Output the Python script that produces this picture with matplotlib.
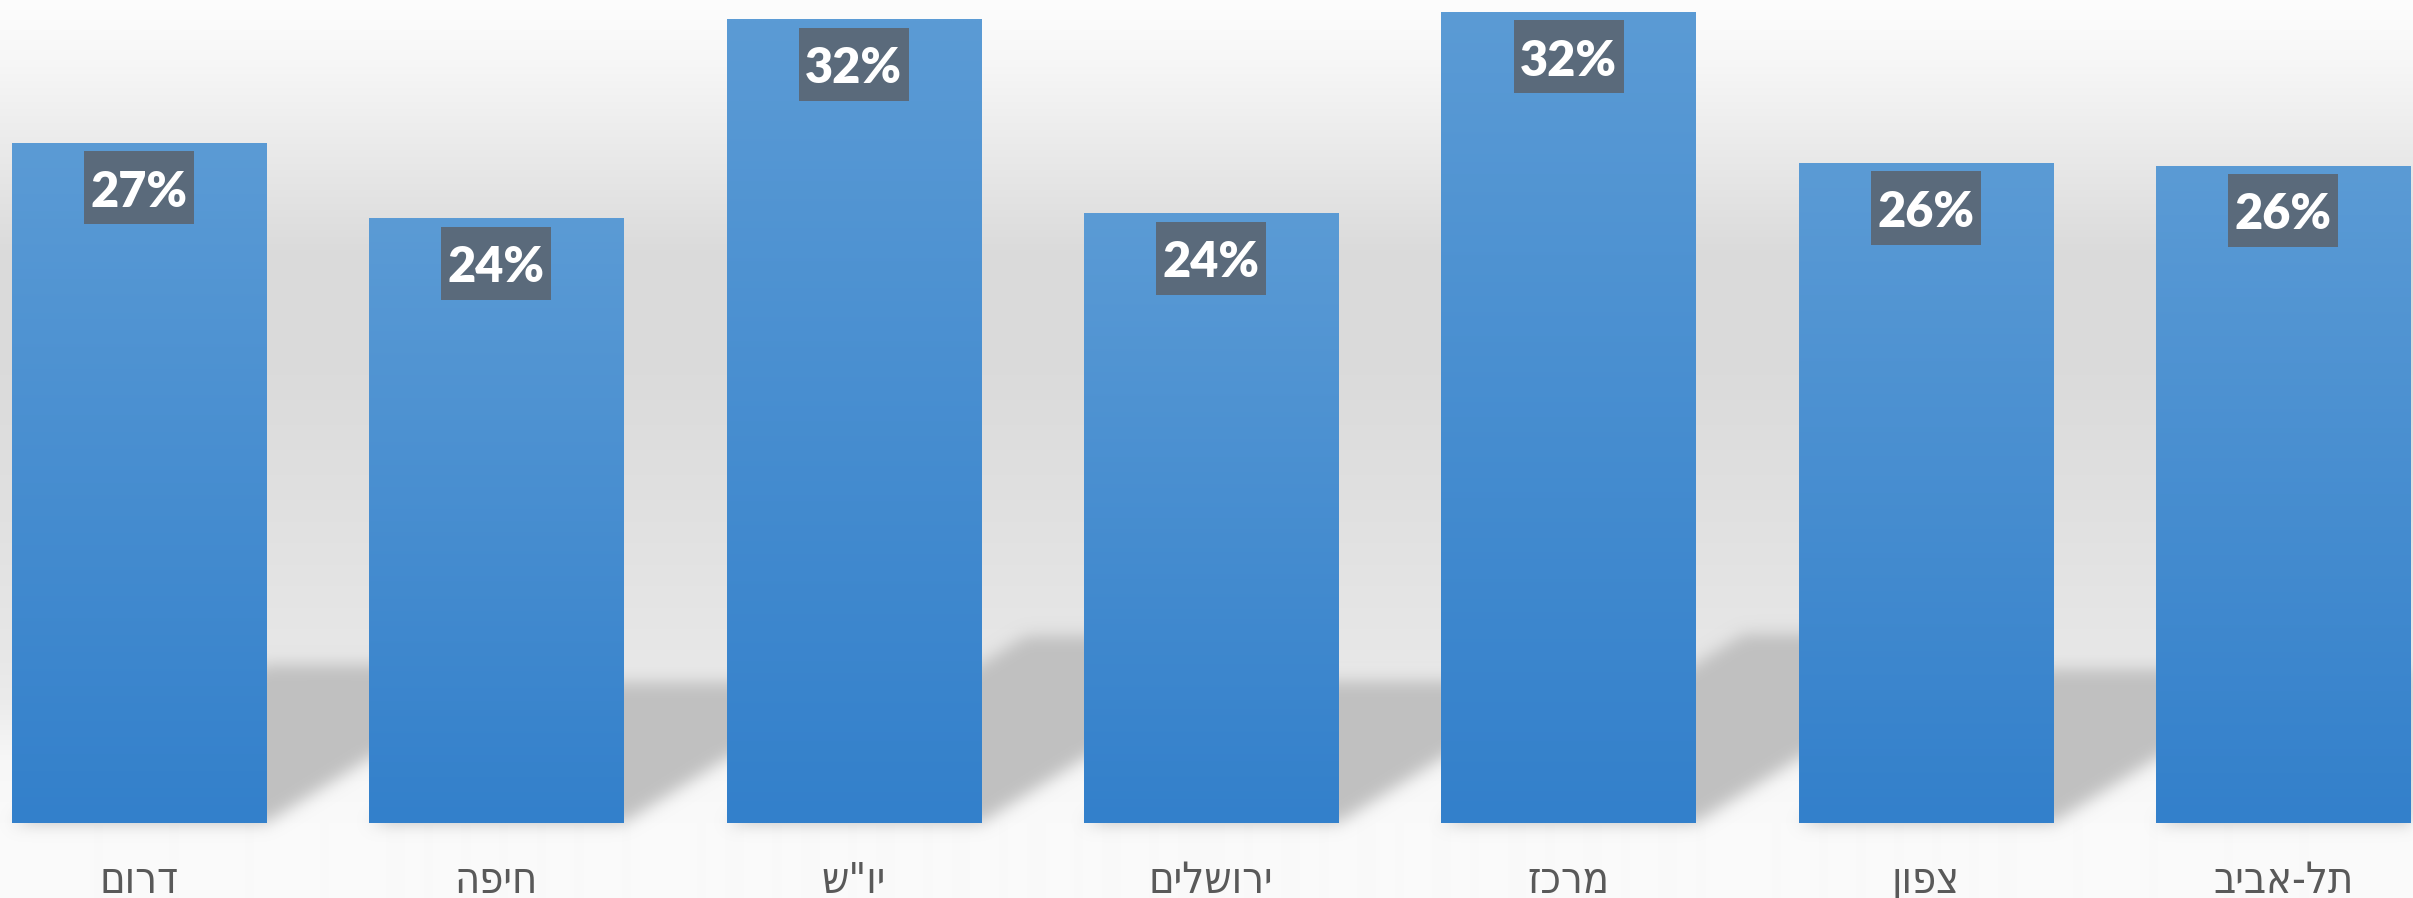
import numpy as np
import matplotlib
matplotlib.use("Agg")
import matplotlib.pyplot as plt
import matplotlib.transforms as mtransforms
from matplotlib.collections import PolyCollection
from matplotlib.patches import Rectangle

# ---- data ----
regions = ["דרום", "חיפה", "יו\"ש", "ירושלים", "מרכז", "צפון", "תל-אביב"]
shares = [27.0, 24.0, 31.9, 24.2, 32.2, 26.2, 26.1]
share_labels = ["27%", "24%", "32%", "24%", "32%", "26%", "26%"]

W, H, DPI = 2413, 898, 100
BAR_W = 0.711
XLIM = (-0.389, 6.363)
YLIM = (0, 32.67)
BAR_TOP = "#5b9bd5"
BAR_BOT = "#3380cb"
BOX = "#5a6a7b"
SHADOW = "#c0c0c0"


def hexrgb(c):
    c = c.lstrip("#")
    return np.array([int(c[i:i + 2], 16) for i in (0, 2, 4)]) / 255.0


def box_blur(a, r, axis):
    a = np.moveaxis(a, axis, 0)
    c = np.cumsum(np.pad(a, [(r + 1, r)] + [(0, 0)] * (a.ndim - 1), mode="edge"), axis=0)
    out = (c[2 * r + 1:] - c[:-2 * r - 1]) / (2 * r + 1)
    return np.moveaxis(out, 0, axis)


def soft_edges(im, dpi):
    # agg filter: blur only the alpha of the shadow, keep its colour flat
    pad = 20
    a = np.pad(im[..., 3], pad, "constant")
    for _ in range(3):
        a = box_blur(a, 5, 0)
        a = box_blur(a, 5, 1)
    out = np.empty(a.shape + (4,))
    out[..., :3] = hexrgb(SHADOW)
    out[..., 3] = np.clip(a, 0, 1)
    return out, -pad, -pad


fig = plt.figure(figsize=(W / DPI, H / DPI), dpi=DPI)
fig.patch.set_facecolor("#fafafa")

# background gradient over the whole picture
bg = fig.add_axes([0, 0, 1, 1])
bg.set_axis_off()
stops_y = [0, 60, 150, 250, 350, 500, 650, 700, 760, 823, 898]
stops_v = [253, 247, 234, 219, 218, 224, 231, 235, 247, 250, 250]
col = np.interp(np.arange(H), stops_y, stops_v) / 255.0
grad = np.repeat(col[:, None, None], 3, axis=2)
bg.imshow(grad, aspect="auto", extent=[0, 1, 0, 1], interpolation="bilinear")
bg.set_xlim(0, 1)
bg.set_ylim(0, 1)

ax = fig.add_axes([0, 75 / H, 1, 823 / H])
ax.set_facecolor("none")
x = np.arange(len(regions))

bars = ax.bar(x, shares, width=BAR_W, color=BAR_BOT, zorder=3)

ax.set_xlim(*XLIM)
ax.set_ylim(*YLIM)

# skewed floor shadow behind each bar
ppx = W / (XLIM[1] - XLIM[0])
ppy = 823 / (YLIM[1] - YLIM[0])
polys = []
for b in bars:
    x0, x1, h = b.get_x(), b.get_x() + b.get_width(), b.get_height()
    hs = 0.233 * h
    dx = 1.6 * hs * ppy / ppx
    polys.append([(x0, 0), (x1, 0), (x1 + dx, hs), (x0 + dx, hs)])
shadows = PolyCollection(polys, facecolors=SHADOW, edgecolors="none", zorder=1)
shadows.set_agg_filter(soft_edges)
ax.add_collection(shadows)

# gradient fill inside bars
ramp = np.linspace(0, 1, 256)[:, None, None]
grad_bar = hexrgb(BAR_BOT) * (1 - ramp) + hexrgb(BAR_TOP) * ramp
for b in bars:
    x0, h = b.get_x(), b.get_height()
    im = ax.imshow(grad_bar, extent=[x0, x0 + b.get_width(), 0, h], origin="lower",
                   aspect="auto", interpolation="bilinear", zorder=4)
    im.set_clip_path(b)

# value labels in dark boxes
pt = DPI / 72.0
for i, (v, lab) in enumerate(zip(shares, share_labels)):
    tr = mtransforms.Affine2D().scale(pt) + mtransforms.ScaledTranslation(i, v, ax.transData)
    ax.add_patch(Rectangle((-39.6, -6.1 - 52.6), 79.2, 52.6, transform=tr,
                           facecolor=BOX, edgecolor="none", zorder=5))
    ax.annotate(lab, xy=(i, v), xytext=(0, -46), textcoords="offset points",
                ha="center", va="baseline", fontsize=35, fontweight="heavy",
                color="white", family=["Lato", "DejaVu Sans"], zorder=6)

ax.set_xlim(*XLIM)
ax.set_ylim(*YLIM)

# Hebrew labels: matplotlib has no bidi, so lay them out in visual order
disp = [r[::-1] for r in regions]
ax.set_xticks(x, disp, fontsize=31, color="#595959", va="baseline",
              family=["DejaVu Sans", "Liberation Sans"], fontstretch="condensed")
ax.tick_params(axis="x", length=0, pad=50.5)
ax.set_yticks([])
for s in ax.spines.values():
    s.set_visible(False)

fig.savefig("out.png", dpi=DPI, facecolor=fig.get_facecolor())
